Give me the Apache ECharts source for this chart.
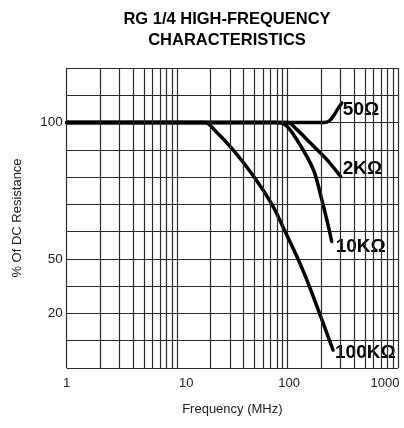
<!DOCTYPE html>
<html>
<head>
<meta charset="utf-8">
<script src="https://cdn.jsdelivr.net/npm/echarts@6/dist/echarts.min.js"></script>
<style>html,body{margin:0;padding:0;background:#fff;}#c{width:404px;height:428px;}</style>
</head>
<body>
<div id="c"></div>
<script>
// ---- data (frequency MHz, % of DC resistance) ----
var xTicks = [1, 10, 100, 1000];
var xMinorTicks = [2,3,4,5,6,7,8,9,20,30,40,50,60,70,80,90,200,300,400,500,600,700,800,900];
var yTicks = [20, 50, 100];
// non-uniform y scale of the printed chart: [percent, grid row]
var yStops = [[0,0],[20,2],[50,4],[100,9],[120,11]];

var names = ['50Ω', '2KΩ', '10KΩ', '100KΩ'];
var curve50 = [[1,100],[215,100],[240,100.7],[262,102.6],[285,105],[310,107.2]];
var curve2K = [[1,100],[100,100],[121,97.5],[160,92.6],[226,86.5],[303,80.2]];
var curve10K = [[1,100],[77,100],[95,99.2],[121,93.8],[171,82.8],[204,71.8],[234,62],[251,56.4]];
var curve100K = [[1,100],[17.9,100],[22,97.1],[32,90.1],[48.7,80.6],[72.4,69.9],[96.9,59.3],[122,50.7],[147,39.6],[170,29.7],[197,19.5],[228,12.5],[258,6.6]];

function pctToRow(p) {
  for (var i = 1; i < yStops.length; i++) {
    var a = yStops[i-1], b = yStops[i];
    if (p <= b[0]) return a[1] + (p - a[0]) * (b[1] - a[1]) / (b[0] - a[0]);
  }
  return yStops[yStops.length-1][1];
}
function conv(arr) { return arr.map(function (d) { return [d[0], pctToRow(d[1])]; }); }

var yLabelMap = {};
yTicks.forEach(function (t) { yLabelMap[Math.round(pctToRow(t))] = String(t); });

var FONT = '"Liberation Sans", Arial, sans-serif';
var endOffsets = [[-1, 7], [0, -8], [2, 5], [0, 3]];
var curves = [curve50, curve2K, curve10K, curve100K];

var series = [{
  type: 'line', data: [], z: 1, silent: true,
  markLine: {
    silent: true, symbol: ['none','none'], label: {show: false},
    lineStyle: {color: '#2a2a2a', width: 1.2, type: 'solid'},
    animation: false,
    data: xMinorTicks.map(function (v) { return {xAxis: v}; })
  }
}];
curves.forEach(function (c, i) {
  series.push({
    name: names[i], type: 'line', data: conv(c), smooth: 0.3, showSymbol: false, z: 3,
    lineStyle: {color: '#000', width: 3.5, cap: 'round'},
    endLabel: {
      show: true, formatter: names[i], color: '#000', fontWeight: 'bold',
      fontSize: 19, fontFamily: FONT, distance: 2, offset: endOffsets[i]
    }
  });
});

var xLabelRich = {
  a1: {padding: [0,0,0,0]},
  a10: {padding: [0,0,0,18]},
  a100: {padding: [0,0,0,3]},
  a1000: {padding: [0,26,0,0]}
};
Object.keys(xLabelRich).forEach(function (k) {
  xLabelRich[k].fontSize = 13; xLabelRich[k].color = '#222'; xLabelRich[k].fontFamily = FONT;
});

var chart = echarts.init(document.getElementById('c'), null, {renderer: 'canvas'});
chart.setOption({
  animation: false,
  backgroundColor: '#fff',
  title: {
    text: 'RG 1/4 HIGH-FREQUENCY\nCHARACTERISTICS',
    left: 222, top: 4, textAlign: 'center',
    textStyle: {fontSize: 16.5, fontWeight: 'bold', color: '#000', fontFamily: FONT, lineHeight: 21}
  },
  grid: {left: 66.7, right: 6, top: 68, bottom: 60, containLabel: false},
  xAxis: {
    type: 'log', logBase: 10, min: 1, max: 1000,
    name: 'Frequency (MHz)', nameLocation: 'middle', nameGap: 35,
    nameTextStyle: {fontSize: 13, color: '#222', fontFamily: FONT},
    axisLine: {show: false}, axisTick: {show: false},
    axisLabel: {
      margin: 9, fontSize: 13, color: '#222', fontFamily: FONT,
      formatter: function (v) { return '{a' + v + '|' + v + '}'; },
      rich: xLabelRich
    },
    splitLine: {show: true, lineStyle: {color: '#2a2a2a', width: 1.2}}
  },
  yAxis: {
    type: 'value', min: 0, max: 11, interval: 1,
    name: '% Of DC Resistance', nameLocation: 'middle', nameGap: 43,
    nameTextStyle: {fontSize: 13, color: '#222', fontFamily: FONT},
    axisLine: {show: false}, axisTick: {show: false},
    axisLabel: {
      margin: 4, fontSize: 13.5, color: '#222', fontFamily: FONT,
      formatter: function (v) { return yLabelMap[v] || ''; }
    },
    splitLine: {show: true, lineStyle: {color: '#2a2a2a', width: 1.2}}
  },
  series: series
});
</script>
</body>
</html>
